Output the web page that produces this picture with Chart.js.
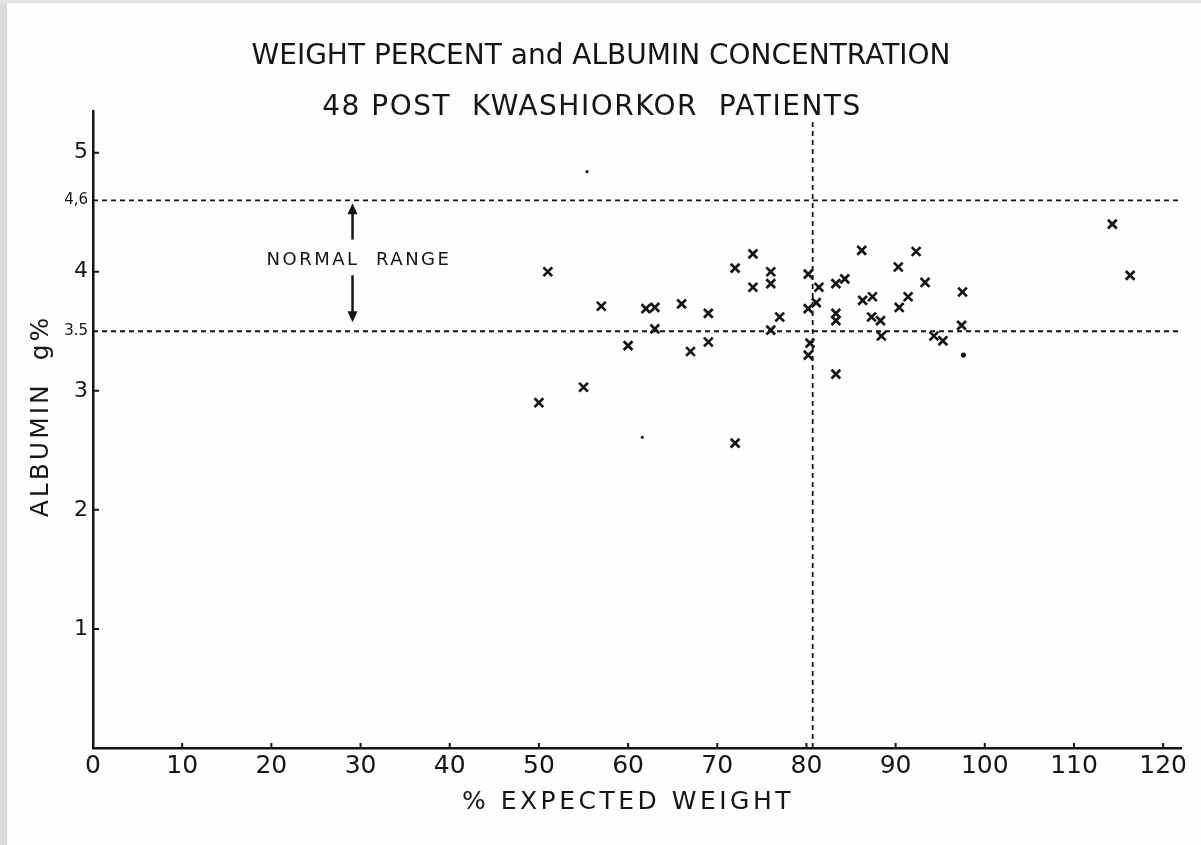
<!DOCTYPE html>
<html>
<head>
<meta charset="utf-8">
<script src="https://cdn.jsdelivr.net/npm/chart.js@4.4.1/dist/chart.umd.min.js"></script>
<style>
	html, body { margin: 0; padding: 0; background: #fdfdfd; }
	canvas { display: block; }
</style>
</head>
<body>
<canvas id="grafico" width="1201" height="845"></canvas>
<script>
// % expected weight and albumin (g%) of the 48 patients
var pesoPct = [50, 51, 55, 57, 60, 62, 63, 63, 66, 67, 69, 69, 72, 72, 74, 74, 76, 76, 76, 77,
	80.2, 80.2, 80.4, 80.2, 81.1, 81.4, 83.3, 83.3, 83.3, 83.3, 84.3, 86.2, 86.3, 87.4, 87.3,
	88.3, 88.4, 90.3, 90.4, 91.4, 92.3, 93.3, 94.3, 95.3, 97.5, 97.4, 114.3, 116.3];
var albumina = [2.90, 4.00, 3.03, 3.71, 3.38, 3.69, 3.70, 3.52, 3.73, 3.33, 3.65, 3.41, 4.03, 2.56, 4.15, 3.87, 4.00, 3.90, 3.51, 3.62,
	3.98, 3.69, 3.40, 3.30, 3.74, 3.87, 3.90, 3.65, 3.59, 3.14, 3.94, 4.18, 3.76, 3.79, 3.62,
	3.59, 3.46, 4.04, 3.70, 3.79, 4.17, 3.91, 3.46, 3.42, 3.83, 3.55, 4.40, 3.97];

// loose dots on the sheet
var pontosX = [97.6, 61.6, 55.4];
var pontosY = [3.30, 2.61, 4.84];
var pontosR = [2.6, 1.6, 1.6];

var xTicks = [0, 10, 20, 30, 40, 50, 60, 70, 80, 90, 100, 110, 120];
var yTicks = [1, 2, 3, 3.5, 4, 4.6, 5];
var yTickLabels = ['1', '2', '3', '3.5', '4', '4,6', '5'];

var faixaNormal = [3.5, 4.6];   // normal albumin range
var corte = 80.7;               // weight cut-off line

var FONTE = '"DejaVu Sans", sans-serif';
var TINTA = '#151515';

var pontos = pesoPct.map((x, i) => ({ x: x, y: albumina[i] }));
var soltos = pontosX.map((x, i) => ({ x: x, y: pontosY[i] }));

seta = (ctx, x, y0, y1) => {
	// shaft from y0 to tip at y1
	var dir = y1 < y0 ? 1 : -1;
	ctx.beginPath();
	ctx.moveTo(x, y0);
	ctx.lineTo(x, y1 + dir * 8);
	ctx.stroke();
	ctx.beginPath();
	ctx.moveTo(x, y1);
	ctx.lineTo(x - 5, y1 + dir * 11);
	ctx.lineTo(x + 5, y1 + dir * 11);
	ctx.closePath();
	ctx.fill();
}

var anotacoes = {
	id: 'anotacoes',
	beforeDraw: (chart) => {
		var ctx = chart.ctx;
		ctx.save();
		ctx.fillStyle = '#fdfdfd';
		ctx.fillRect(0, 0, chart.width, chart.height);
		ctx.fillStyle = '#dcdcdc';
		ctx.fillRect(0, 0, 7, chart.height);
		ctx.fillStyle = '#e4e4e4';
		ctx.fillRect(0, 0, chart.width, 3);
		ctx.restore();
	},
	afterDraw: (chart) => {
		var ctx = chart.ctx;
		var sx = chart.scales.x, sy = chart.scales.y;
		ctx.save();
		ctx.fillStyle = TINTA;
		ctx.strokeStyle = TINTA;
		ctx.textAlign = 'center';
		ctx.textBaseline = 'middle';

		// titles
		ctx.font = '28px ' + FONTE;
		ctx.letterSpacing = '0px';
		ctx.fillText('WEIGHT PERCENT and ALBUMIN CONCENTRATION', 601, 57);
		ctx.letterSpacing = '1.5px';
		ctx.fillText('48 POST  KWASHIORKOR  PATIENTS', 592, 108);

		// axis titles
		ctx.font = '25px ' + FONTE;
		ctx.letterSpacing = '3.5px';
		ctx.fillText('% EXPECTED WEIGHT', 628, 802);

		ctx.save();
		ctx.translate(41, 416);
		ctx.rotate(-Math.PI / 2);
		ctx.font = '25px ' + FONTE;
		ctx.letterSpacing = '3px';
		ctx.fillText('ALBUMIN  g%', 0, 0);
		ctx.restore();

		// normal range
		var xs = sx.getPixelForValue(29.1);
		ctx.font = '18px ' + FONTE;
		ctx.letterSpacing = '2.5px';
		ctx.fillText('NORMAL  RANGE', 359, 260);
		ctx.lineWidth = 2.5;
		seta(ctx, xs, sy.getPixelForValue(4.27), sy.getPixelForValue(faixaNormal[1]) + 3);
		seta(ctx, xs, sy.getPixelForValue(3.97), sy.getPixelForValue(faixaNormal[0]) - 9);

		// inward tick marks
		ctx.lineWidth = 2;
		ctx.beginPath();
		yTicks.filter(v => v % 1 === 0).forEach(v => {
			var py = sy.getPixelForValue(v);
			ctx.moveTo(sx.left, py);
			ctx.lineTo(sx.left + 6, py);
		});
		xTicks.filter(v => v > 0).forEach(v => {
			var px = sx.getPixelForValue(v);
			ctx.moveTo(px, sy.bottom);
			ctx.lineTo(px, sy.bottom - 5);
		});
		ctx.stroke();
		ctx.restore();
	}
};

var linhaTracejada = (dados) => ({
	type: 'line',
	data: dados,
	borderColor: TINTA,
	borderWidth: 1.8,
	borderDash: [5, 4],
	pointRadius: 0,
	fill: false
});

var grafico = new Chart(document.getElementById('grafico'), {
	type: 'scatter',
	data: {
		datasets: [
			linhaTracejada([{ x: 0, y: faixaNormal[1] }, { x: 122, y: faixaNormal[1] }]),
			linhaTracejada([{ x: 0, y: faixaNormal[0] }, { x: 122, y: faixaNormal[0] }]),
			linhaTracejada([{ x: corte, y: 0 }, { x: corte, y: 5.29 }]),
			{
				label: 'Patients',
				data: pontos,
				pointStyle: 'crossRot',
				pointRadius: 6.2,
				pointBorderWidth: 2.7,
				borderColor: TINTA,
				backgroundColor: TINTA
			},
			{
				label: 'dots',
				data: soltos,
				pointStyle: 'circle',
				pointRadius: pontosR,
				pointBorderWidth: 0,
				backgroundColor: TINTA,
				borderColor: TINTA
			}
		]
	},
	options: {
		responsive: false,
		animation: false,
		devicePixelRatio: 1,
		layout: { padding: { top: 111, right: 20, bottom: 0, left: 0 } },
		plugins: {
			legend: { display: false },
			tooltip: { enabled: false },
			title: { display: false }
		},
		scales: {
			x: {
				type: 'linear',
				min: 0,
				max: 122,
				afterFit: (s) => { s.height = 97; },
				afterBuildTicks: (s) => { s.ticks = xTicks.map(v => ({ value: v })); },
				grid: { display: false, drawTicks: false },
				border: { display: true, color: TINTA, width: 2.5 },
				ticks: {
					color: TINTA,
					padding: 3,
					maxRotation: 0,
					autoSkip: false,
					font: { family: FONTE, size: 25 }
				}
			},
			y: {
				type: 'linear',
				min: 0,
				max: 5.35,
				afterFit: (s) => { s.width = 93; },
				afterBuildTicks: (s) => { s.ticks = yTicks.map(v => ({ value: v })); },
				grid: { display: false, drawTicks: false },
				border: { display: true, color: TINTA, width: 2.5 },
				ticks: {
					color: TINTA,
					padding: 5,
					autoSkip: false,
					callback: (v, i) => yTickLabels[i],
					font: (c) => (c.tick && c.tick.value % 1 !== 0)
						? { family: FONTE, size: 15 }
						: { family: FONTE, size: 22 }
				}
			}
		}
	},
	plugins: [anotacoes]
});
</script>
</body>
</html>
